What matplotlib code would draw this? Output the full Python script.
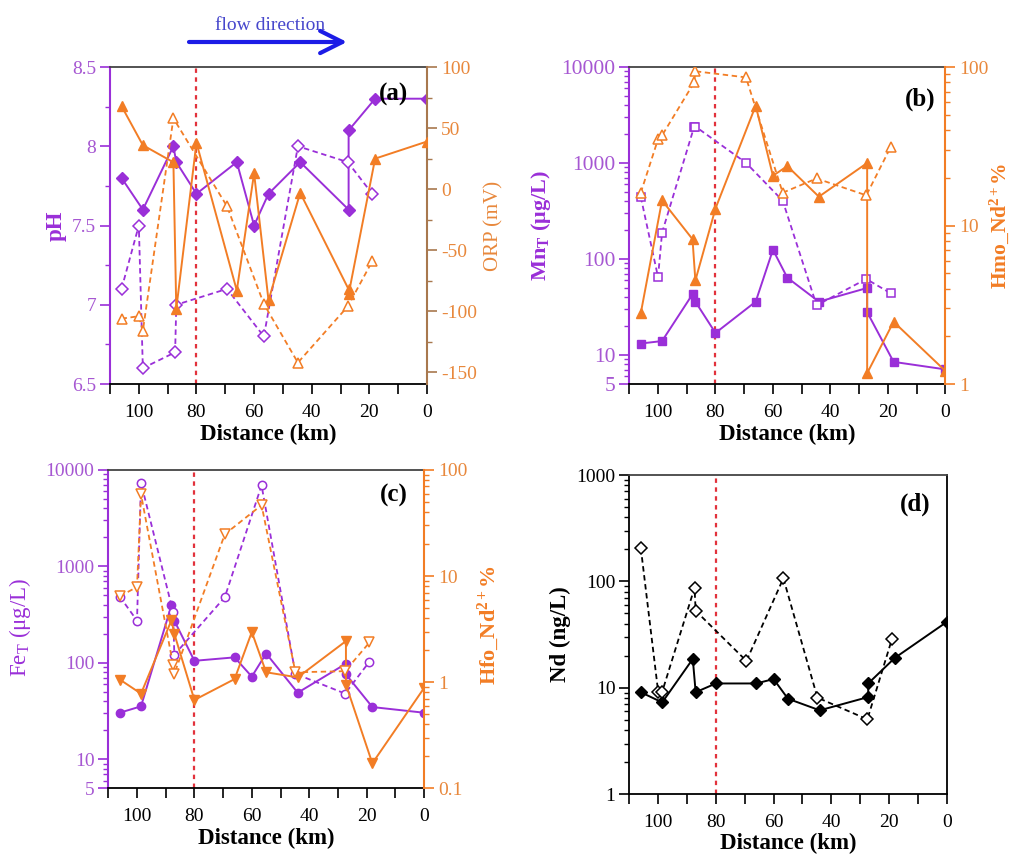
import matplotlib
matplotlib.use("Agg")
import matplotlib.pyplot as plt
from matplotlib.ticker import FixedLocator, FuncFormatter, MultipleLocator, LogLocator, NullFormatter

plt.rcParams['font.family'] = ['Liberation Serif', 'DejaVu Serif']
plt.rcParams['mathtext.fontset'] = 'custom'
plt.rcParams['mathtext.rm'] = 'Liberation Serif'
plt.rcParams['mathtext.bf'] = 'Liberation Serif:bold'
plt.rcParams['mathtext.it'] = 'Liberation Serif:italic'
plt.rcParams['axes.unicode_minus'] = False

# ---------------- data ----------------
dist_solid = [106, 98.6, 88, 87, 80, 66, 60, 55, 44, 27.2, 27.2, 18, 0]
dist_dash = [106, 100, 98.6, 87.4, 87, 69.4, 56.6, 44.8, 27.5, 19]
dist_orp_dash = [106, 100, 98.6, 88, 69.4, 56.6, 44.8, 27.5, 19]

ph_solid = [7.8, 7.6, 8.0, 7.9, 7.7, 7.9, 7.5, 7.7, 7.9, 7.6, 8.1, 8.3, 8.3]
ph_dash = [7.1, 7.5, 6.6, 6.7, 7.0, 7.1, 6.8, 8.0, 7.9, 7.7]
orp_solid = [68, 36, 22, -98, 38, -83, 13, -91, -3, -82, -86, 25, 39]
orp_dash = [-106, -104, -116, 58, -14, -94, -142, -96, -59]

mn_solid = [13.2, 14, 43, 36, 17, 36, 125, 64, 36, 50, 28, 8.5, 7.1]
mn_dash = [443, 65, 188, 2400, 2400, 1007, 405, 33, 62, 44]
hmo_solid = [2.8, 14.4, 8.2, 4.5, 12.8, 57, 20.6, 23.7, 15.2, 24.8, 1.17, 2.47, 1.21]
hmo_dash = [16.1, 35, 37, 80, 94, 86, 16.1, 19.8, 15.5, 31.3]

fe_solid = [30.4, 35.4, 395, 274, 105, 114, 72, 125, 49, 98, 76, 34.8, 30.4]
fe_dash = [487, 274, 7380, 334, 121, 480, 6920, 77, 48, 103]
hfo_solid = [1.06, 0.78, 3.83, 2.86, 0.68, 1.07, 2.97, 1.24, 1.11, 2.44, 0.95, 0.172, 0.88]
hfo_dash = [6.45, 7.9, 59, 1.44, 1.2, 24.8, 46.7, 1.24, 1.27, 2.37]

nd_solid = [9.1, 7.3, 18.7, 9.1, 11, 11, 12.1, 7.9, 6.15, 8.2, 11, 19.1, 41.6]
nd_dash = [205, 9.2, 9.2, 87, 53, 17.9, 107, 8.1, 5.06, 28.6]

x_major = [0, 20, 40, 60, 80, 100]
x_minor = [10, 30, 50, 70, 90, 110]
redox_boundary = 80

# ---------------- style ----------------
PURPLE = '#9a2fd8'
PURPLE_T = '#a657d2'
ORANGE = '#f27d25'
ORANGE_T = '#e8883c'
BROWN = '#a8784e'
RED = '#e2323c'
TICK_FS = 14

fig = plt.figure(figsize=(10.13, 8.55), dpi=100)
W, H = 1013.0, 855.0


def axes_px(l, t, r, b):
    return fig.add_axes([l / W, 1 - b / H, (r - l) / W, (b - t) / H])


def style_x(ax, label_y=-0.125):
    ax.set_xlim(110, 0)
    ax.xaxis.set_major_locator(FixedLocator(x_major))
    ax.xaxis.set_minor_locator(FixedLocator(x_minor))
    ax.xaxis.set_major_formatter(FuncFormatter(lambda v, p: f'{v:g}'))
    ax.tick_params(axis='x', which='both', direction='out', length=7.5, width=1.2,
                   labelsize=TICK_FS, colors='black', pad=7, top=False)
    ax.set_xlabel('Distance (km)', fontsize=16.5, fontweight='bold')
    ax.xaxis.set_label_coords(0.5, label_y)
    ax.spines['bottom'].set_color('black')
    ax.spines['bottom'].set_linewidth(1.3)
    ax.spines['top'].set_color('#444444')
    ax.spines['top'].set_linewidth(1.3)
    ax.axvline(redox_boundary, color=RED, lw=1.6, ls=(0, (2, 2)), zorder=1)


def pair(ax, xs, ys, xd, yd, color, marker, ms):
    ax.plot(xs, ys, '-', color=color, marker=marker, ms=ms, mfc=color, mec=color,
            lw=1.4, zorder=3)
    ax.plot(xd, yd, linestyle=(0, (3, 2)), color=color, marker=marker, ms=ms,
            mfc='white', mec=color, mew=1.1, lw=1.3, zorder=3)


def left_style(ax, color, tcolor, fs=TICK_FS):
    ax.spines['left'].set_color(color)
    ax.spines['left'].set_linewidth(1.5)
    ax.spines['right'].set_visible(False)
    ax.tick_params(axis='y', which='major', direction='out', length=7, width=1.2,
                   colors=color, labelcolor=tcolor, labelsize=fs, pad=3)
    ax.tick_params(axis='y', which='minor', direction='out', length=3.5, width=1.0,
                   colors=color)


def right_style(ax2, color, tcolor):
    for s in ['left', 'top', 'bottom']:
        ax2.spines[s].set_visible(False)
    ax2.spines['right'].set_color(color)
    ax2.spines['right'].set_linewidth(1.5)
    ax2.tick_params(axis='y', which='major', direction='out', length=7, width=1.2,
                    colors=color, labelcolor=tcolor, labelsize=TICK_FS, pad=3)
    ax2.tick_params(axis='y', which='minor', direction='out', length=3.5, width=1.0,
                    colors=color)


def log_left(ax, lo, hi, labels):
    ax.set_yscale('log')
    ax.set_ylim(lo, hi)
    ax.yaxis.set_major_locator(FixedLocator(labels))
    ax.yaxis.set_major_formatter(FuncFormatter(lambda v, p: f'{v:g}'))
    ax.yaxis.set_minor_locator(LogLocator(base=10, subs=range(2, 10)))
    ax.yaxis.set_minor_formatter(NullFormatter())


# ---------------- (a) ----------------
axa = axes_px(110, 67, 427, 384)
axa2 = axa.twinx()
pair(axa, dist_solid, ph_solid, dist_dash, ph_dash, PURPLE, 'D', 6.3)
pair(axa2, dist_solid, orp_solid, dist_orp_dash, orp_dash, ORANGE, '^', 7)
axa.set_ylim(6.5, 8.5)
axa.yaxis.set_major_locator(MultipleLocator(0.5))
axa.yaxis.set_minor_locator(MultipleLocator(0.25))
axa.yaxis.set_major_formatter(FuncFormatter(lambda v, p: f'{v:g}'))
axa2.set_ylim(-159.5, 100)
axa2.yaxis.set_major_locator(MultipleLocator(50))
axa2.yaxis.set_minor_locator(MultipleLocator(25))
style_x(axa)
left_style(axa, PURPLE, PURPLE_T)
right_style(axa2, BROWN, ORANGE_T)
axa.set_ylabel('pH', fontsize=16.5, fontweight='bold', color=PURPLE)
axa.yaxis.set_label_coords(-0.137, 0.5)
axa2.set_ylabel('ORP (mV)', fontsize=15, color=ORANGE_T)
axa2.yaxis.set_label_coords(1.18, 0.5)
axa2.text(0.895, 0.95, '(a)', transform=axa2.transAxes, fontsize=18,
          fontweight='bold', ha='center', va='top')

# flow direction arrow
fig.text(270 / W, 1 - 25 / H, 'flow direction', fontsize=14, color='#4747cc',
         ha='center', va='center')
axa.annotate('', xy=(347 / W, 1 - 42 / H), xytext=(189 / W, 1 - 42 / H),
             xycoords='figure fraction', textcoords='figure fraction',
             arrowprops=dict(arrowstyle='->,head_length=0.8,head_width=0.4',
                             color='#1c1ce6', lw=3, mutation_scale=20,
                             shrinkA=0, shrinkB=0))

# ---------------- (b) ----------------
axb = axes_px(629.3, 67, 945.3, 384)
axb2 = axb.twinx()
pair(axb, dist_solid, mn_solid, dist_dash, mn_dash, PURPLE, 's', 5.5)
pair(axb2, dist_solid, hmo_solid, dist_dash, hmo_dash, ORANGE, '^', 7)
log_left(axb, 5, 10000, [5, 10, 100, 1000, 10000])
log_left(axb2, 1, 100, [1, 10, 100])
style_x(axb)
left_style(axb, PURPLE, PURPLE_T, fs=15.5)
right_style(axb2, ORANGE, ORANGE_T)
axb.set_ylabel('$\\mathbf{Mn}_{\\mathbf{T}}$ (μg/L)', fontsize=16, fontweight='bold',
               color=PURPLE)
axb.yaxis.set_label_coords(-0.24, 0.5)
axb2.set_ylabel('Hmo_Nd$^{\\mathbf{2+}}$%', fontsize=15.5, fontweight='bold',
                color=ORANGE)
axb2.yaxis.set_label_coords(1.135, 0.5)
axb2.text(0.92, 0.935, '(b)', transform=axb2.transAxes, fontsize=18,
          fontweight='bold', ha='center', va='top')

# ---------------- (c) ----------------
axc = axes_px(108.3, 470, 424, 788.3)
axc2 = axc.twinx()
pair(axc, dist_solid, fe_solid, dist_dash, fe_dash, PURPLE, 'o', 6)
pair(axc2, dist_solid, hfo_solid, dist_dash, hfo_dash, ORANGE, 'v', 7)
log_left(axc, 5, 10000, [5, 10, 100, 1000, 10000])
log_left(axc2, 0.1, 100, [0.1, 1, 10, 100])
style_x(axc)
left_style(axc, PURPLE, PURPLE_T)
right_style(axc2, ORANGE, ORANGE_T)
axc.set_ylabel('Fe$_{\\mathrm{T}}$ (μg/L)', fontsize=16.5, color=PURPLE)
axc.yaxis.set_label_coords(-0.239, 0.505)
axc2.set_ylabel('Hfo_Nd$^{\\mathbf{2+}}$%', fontsize=16, fontweight='bold',
                color=ORANGE)
axc2.yaxis.set_label_coords(1.162, 0.513)
axc2.text(0.905, 0.955, '(c)', transform=axc2.transAxes, fontsize=18,
          fontweight='bold', ha='center', va='top')

# ---------------- (d) ----------------
axd = axes_px(629.3, 475, 946.7, 794.3)
pair(axd, dist_solid, nd_solid, dist_dash, nd_dash, 'black', 'D', 6.3)
log_left(axd, 1, 1000, [1, 10, 100, 1000])
style_x(axd, label_y=-0.122)
axd.spines['left'].set_color('black')
axd.spines['left'].set_linewidth(1.3)
axd.spines['right'].set_color('black')
axd.spines['right'].set_linewidth(1.3)
axd.tick_params(axis='y', which='major', direction='out', length=7, width=1.2,
                colors='black', labelsize=TICK_FS, pad=3, right=False)
axd.tick_params(axis='y', which='minor', direction='out', length=3.5, width=1.0,
                colors='black', right=False)
axd.set_ylabel('Nd (ng/L)', fontsize=16.5, fontweight='bold', color='black')
axd.yaxis.set_label_coords(-0.185, 0.502)
axd.text(0.9, 0.945, '(d)', transform=axd.transAxes, fontsize=18,
         fontweight='bold', ha='center', va='top')

fig.savefig('out.png', dpi=100)
